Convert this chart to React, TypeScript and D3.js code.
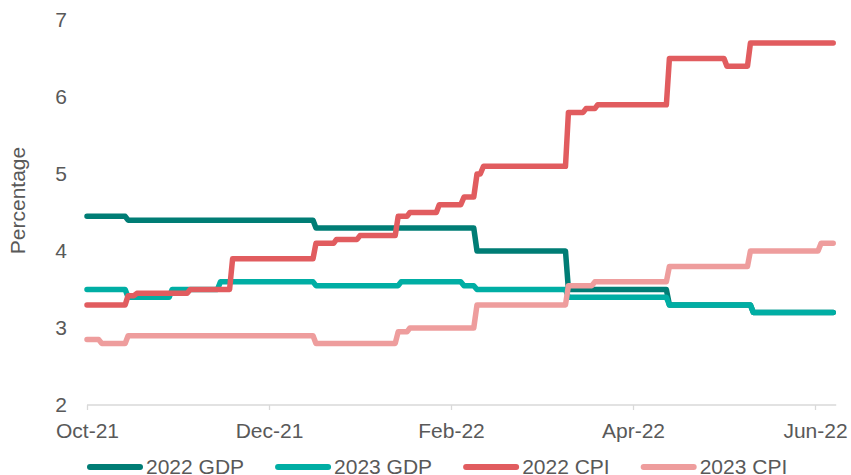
import React, { useEffect, useRef } from "react";
import * as d3 from "d3";

// ---- Data (step change points) ----
const seriesNames = ["2022 GDP", "2023 GDP", "2022 CPI", "2023 CPI"];
const seriesColors = ["#007d75", "#00aea4", "#e15c5f", "#ee9d9d"];

const gdp2022Dates = ["2021-10-01", "2021-10-15", "2021-12-17", "2022-02-09", "2022-03-10", "2022-04-13", "2022-05-11"];
const gdp2022Values = [4.45, 4.4, 4.3, 4.0, 3.5, 3.3, 3.2];

const gdp2023Dates = ["2021-10-01", "2021-10-15", "2021-10-30", "2021-11-15", "2021-12-17", "2022-01-15", "2022-02-05", "2022-02-09", "2022-03-10", "2022-04-13", "2022-05-11"];
const gdp2023Values = [3.5, 3.4, 3.5, 3.6, 3.55, 3.6, 3.55, 3.5, 3.4, 3.3, 3.2];

const cpi2022Dates = ["2021-10-01", "2021-10-15", "2021-10-18", "2021-11-05", "2021-11-19", "2021-12-17", "2021-12-24", "2022-01-01", "2022-01-14", "2022-01-18", "2022-01-28", "2022-02-05", "2022-02-09", "2022-02-11", "2022-03-10", "2022-03-16", "2022-03-20", "2022-04-13", "2022-05-02", "2022-05-10"];
const cpi2022Values = [3.3, 3.42, 3.45, 3.5, 3.9, 4.1, 4.15, 4.2, 4.45, 4.5, 4.6, 4.7, 5.0, 5.1, 5.8, 5.85, 5.9, 6.5, 6.4, 6.7];

const cpi2023Dates = ["2021-10-01", "2021-10-06", "2021-10-15", "2021-12-17", "2022-01-14", "2022-01-18", "2022-02-09", "2022-03-10", "2022-03-19", "2022-04-13", "2022-05-10", "2022-06-03"];
const cpi2023Values = [2.85, 2.8, 2.9, 2.8, 2.95, 3.0, 3.3, 3.55, 3.6, 3.8, 4.0, 4.1];

const lastDate = "2022-06-07";
const axisStart = "2021-10-01";
const axisEnd = "2022-06-08";
const xTickDates = ["2021-10-01", "2021-12-01", "2022-02-01", "2022-04-01", "2022-06-01"];
const yDomain = [2, 7];
const yTitle = "Percentage";

const seriesDates = [gdp2022Dates, gdp2023Dates, cpi2022Dates, cpi2023Dates];
const seriesValues = [gdp2022Values, gdp2023Values, cpi2022Values, cpi2023Values];

const parse = d3.timeParse("%Y-%m-%d");

function buildPoints(dates: string[], values: number[]) {
  const pts: { date: Date; value: number }[] = [];
  for (let i = 0; i < dates.length; i++) {
    const d = parse(dates[i]) as Date;
    pts.push({ date: d, value: values[i] });
    const next = i + 1 < dates.length ? (parse(dates[i + 1]) as Date) : (parse(lastDate) as Date);
    const hold = i + 1 < dates.length ? d3.timeDay.offset(next, -1) : next;
    pts.push({ date: hold, value: values[i] });
  }
  return pts;
}

const W = 851;
const H = 475;
const FONT = "'Liberation Sans', Arial, sans-serif";
const TEXT = "#595959";

// plot geometry
const X0 = 87;
const MONTH_W = 91;
const Y_BOTTOM = 405;
const Y_TOP = 20;

export default function App() {
  const ref = useRef<SVGSVGElement>(null);

  useEffect(() => {
    const svg = d3.select(ref.current);
    svg.selectAll("*").remove();

    // date axis with equal width per month (base unit: months)
    const start = parse(axisStart) as Date;
    const monthStarts = d3.timeMonth.range(start, d3.timeMonth.offset(parse(axisEnd) as Date, 1));
    monthStarts.push(d3.timeMonth.offset(monthStarts[monthStarts.length - 1], 1));
    const x = d3
      .scaleTime()
      .domain(monthStarts)
      .range(monthStarts.map((_, i) => X0 + i * MONTH_W));
    const y = d3.scaleLinear().domain(yDomain).range([Y_BOTTOM, Y_TOP]);

    // y tick labels
    const yg = svg.append("g");
    y.ticks(5).forEach((t) => {
      yg.append("text")
        .attr("x", 67)
        .attr("y", y(t))
        .attr("dy", "0.35em")
        .attr("text-anchor", "end")
        .attr("font-family", FONT)
        .attr("font-size", 21)
        .attr("fill", TEXT)
        .text(d3.format("d")(t));
    });

    // y title
    svg
      .append("text")
      .attr("transform", `translate(18,${(Y_BOTTOM + Y_TOP) / 2 - 12}) rotate(-90)`)
      .attr("dy", "0.35em")
      .attr("text-anchor", "middle")
      .attr("font-family", FONT)
      .attr("font-size", 21)
      .attr("fill", TEXT)
      .text(yTitle);

    // x axis
    const xAxis = d3
      .axisBottom(x)
      .tickValues(xTickDates.map((s) => parse(s) as Date))
      .tickFormat((d) => d3.timeFormat("%b-%y")(d as Date))
      .tickSizeInner(5)
      .tickSizeOuter(0)
      .tickPadding(13);
    const xg = svg.append("g").attr("transform", `translate(0,${Y_BOTTOM})`).call(xAxis);
    xg.select(".domain")
      .attr("d", `M${x(start)},0H${x(parse(axisEnd) as Date)}`)
      .attr("stroke", "#d9d9d9")
      .attr("stroke-width", 1.3);
    xg.selectAll(".tick line").attr("stroke", "#d9d9d9").attr("stroke-width", 1.3);
    xg.selectAll(".tick text")
      .attr("font-family", FONT)
      .attr("font-size", 21)
      .attr("fill", TEXT);

    // lines
    const line = d3
      .line<{ date: Date; value: number }>()
      .x((d) => x(d.date))
      .y((d) => y(d.value));

    seriesNames.forEach((name, i) => {
      svg
        .append("path")
        .datum(buildPoints(seriesDates[i], seriesValues[i]))
        .attr("d", line)
        .attr("fill", "none")
        .attr("stroke", seriesColors[i])
        .attr("stroke-width", 5.5)
        .attr("stroke-linejoin", "round")
        .attr("stroke-linecap", "round");
    });

    // legend
    const lg = svg.append("g").attr("transform", `translate(${X0},467)`);
    let cx = 0;
    seriesNames.forEach((name, i) => {
      const g = lg.append("g").attr("transform", `translate(${cx},0)`);
      g.append("line")
        .attr("x1", 3)
        .attr("x2", 53)
        .attr("y1", 0)
        .attr("y2", 0)
        .attr("stroke", seriesColors[i])
        .attr("stroke-width", 6)
        .attr("stroke-linecap", "round");
      const t = g
        .append("text")
        .attr("x", 59)
        .attr("y", 0)
        .attr("dy", "0.35em")
        .attr("font-family", FONT)
        .attr("font-size", 21)
        .attr("fill", TEXT)
        .text(name);
      const w = (t.node() as SVGTextElement).getComputedTextLength();
      cx += 59 + w + 31;
    });
  }, []);

  return (
    <svg
      ref={ref}
      width={W}
      height={H}
      style={{ position: "absolute", left: 0, top: 0, background: "#fff" }}
    />
  );
}
